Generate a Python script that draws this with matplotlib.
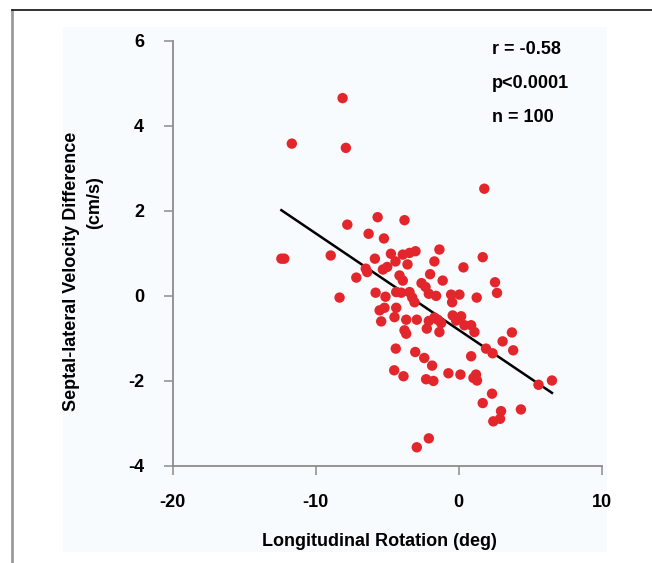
import matplotlib
matplotlib.use('Agg')
from matplotlib import pyplot as plt
from matplotlib.patches import Rectangle
from matplotlib.lines import Line2D
import numpy as np

# longitudinal rotation (deg)
rotation = [-8.12, -11.67, -7.89, -7.79, -5.67, -6.3, -5.23, -3.79, -12.4, -12.2,
            -8.95, -8.33, -7.16, -6.5, -6.4, -5.86, -4.74, -4.42, -3.91, -3.44,
            -3.02, -1.35, -3.58, -1.7, 1.68, 0.33, -5.3, -5.0, -4.14, -3.91,
            -2.0, -1.12, -2.6, -2.32, -2.09, -1.58, 2.54, 2.68, -5.81, -5.12,
            -4.37, -4.02, -3.44, -3.25, -3.09, -0.53, 0.05, -0.46, 1.26, -5.53,
            -5.19, -4.37, -5.42, -4.49, -3.67, -2.93, -3.79, -3.67, -2.09, -1.7,
            -1.47, -1.23, -2.23, -1.35, -0.42, -0.18, 0.17, 0.4, 0.87, 1.1,
            1.91, 2.37, 0.87, -4.4, -3.04, -2.41, -1.86, -4.51, -3.86, -2.28,
            -1.77, -0.72, 0.12, 1.03, 1.21, 1.28, 2.33, 1.68, 2.42, -2.09,
            -2.93, 3.07, 3.72, 3.81, 5.58, 6.52, 2.96, 2.89, 4.35, 1.79]

# septal-lateral velocity difference (cm/s)
velocity = [4.65, 3.58, 3.48, 1.675, 1.85, 1.46, 1.35, 1.78, 0.875, 0.875,
            0.95, -0.04, 0.43, 0.64, 0.56, 0.875, 0.99, 0.81, 0.97, 1.01,
            1.05, 1.09, 0.74, 0.81, 0.91, 0.67, 0.62, 0.68, 0.48, 0.36,
            0.51, 0.36, 0.3, 0.21, 0.05, 0.0, 0.32, 0.07, 0.075, -0.02,
            0.09, 0.075, 0.09, -0.04, -0.15, 0.03, 0.03, -0.15, -0.04, -0.34,
            -0.28, -0.28, -0.6, -0.5, -0.56, -0.56, -0.81, -0.89, -0.59, -0.51,
            -0.56, -0.64, -0.77, -0.85, -0.46, -0.58, -0.48, -0.69, -0.69, -0.85,
            -1.24, -1.35, -1.42, -1.24, -1.32, -1.46, -1.64, -1.75, -1.89, -1.96,
            -2.0, -1.82, -1.85, -1.93, -1.85, -1.99, -2.3, -2.52, -2.95, -3.35,
            -3.56, -1.07, -0.86, -1.28, -2.09, -1.99, -2.71, -2.89, -2.67, 2.52]

# regression line
fit_slope = -0.227
fit_intercept = -0.80

stats = ['r = -0.58', 'p<0.0001', 'n = 100']

W, H = 652, 563

plt.rcParams['font.family'] = ['Liberation Sans', 'DejaVu Sans']
plt.rcParams['font.weight'] = 'bold'
plt.rcParams['axes.unicode_minus'] = False

fig = plt.figure(figsize=(W / 100, H / 100), dpi=100, facecolor='white')

# pale panel behind the chart
fig.add_artist(Rectangle((63 / W, 1 - 552 / H), (607 - 63) / W, (552 - 27) / H,
                         transform=fig.transFigure, facecolor='#f7fbfd',
                         edgecolor='none', zorder=-2))
# frame lines
fig.add_artist(Line2D([12 / W, 12 / W], [0, 1 - 10 / H], transform=fig.transFigure,
                      color='#9a9a9a', lw=2, zorder=-1))
fig.add_artist(Line2D([12 / W, 1], [1 - 10 / H, 1 - 10 / H], transform=fig.transFigure,
                      color='#222222', lw=1.3, zorder=-1))

ax = fig.add_axes([172.7 / W, 1 - 466 / H, 429 / W, 425.3 / H])
ax.set_facecolor('none')

ax.scatter(rotation, velocity, s=56, color='#e3262b', edgecolors='none', zorder=3)

xs = np.array([min(rotation), max(rotation)])
ax.plot(xs, fit_intercept + fit_slope * xs, color='black', lw=1.8, zorder=2)

ax.set_xlim(-20, 10)
ax.set_ylim(-4, 6)
ax.set_xticks([-20, -10, 0, 10])
ax.set_yticks([-4, -2, 0, 2, 4, 6])

for s in ['top', 'right']:
    ax.spines[s].set_visible(False)
for s in ['left', 'bottom']:
    ax.spines[s].set_color('#8c8c8c')
    ax.spines[s].set_linewidth(1.3)
ax.tick_params(axis='both', direction='out', length=6.5, width=1.1, color='#8c8c8c',
               labelsize=13, labelcolor='black')
ax.tick_params(axis='x', pad=14)
ax.tick_params(axis='y', pad=14)
for lab in ax.get_xticklabels() + ax.get_yticklabels():
    lab.set_fontweight('bold')

fig.text(379 / W, 1 - 541 / H, 'Longitudinal Rotation (deg)', ha='center', va='center',
         fontsize=13, fontweight='bold')
fig.text(71.7 / W, 1 - 271 / H, 'Septal-lateral Velocity Difference', rotation=90,
         ha='center', va='center', fontsize=13, fontweight='bold')
fig.text(95 / W, 1 - 203 / H, '(cm/s)', rotation=90, ha='center', va='center',
         fontsize=13, fontweight='bold')

for i, t in enumerate(stats):
    fig.text(492 / W, 1 - (49 + 34.5 * i) / H, t, ha='left', va='center',
             fontsize=13, fontweight='bold')

fig.savefig('out.png', dpi=100)
